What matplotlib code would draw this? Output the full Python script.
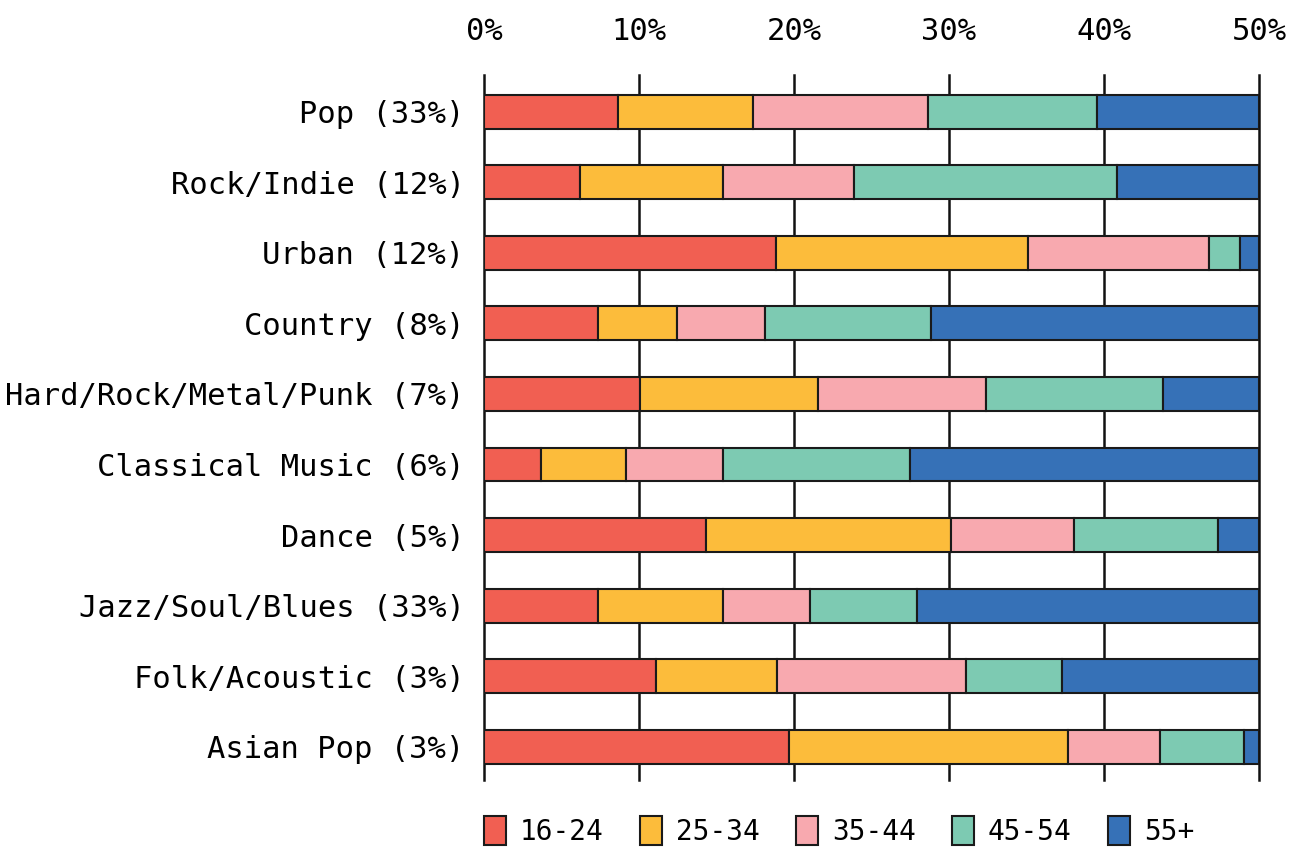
import matplotlib.pyplot as plt
import numpy as np

# Genres (top to bottom) and share of each age group, in percent
genres = ['Pop (33%)', 'Rock/Indie (12%)', 'Urban (12%)', 'Country (8%)',
          'Hard/Rock/Metal/Punk (7%)', 'Classical Music (6%)', 'Dance (5%)',
          'Jazz/Soul/Blues (33%)', 'Folk/Acoustic (3%)', 'Asian Pop (3%)']

age_groups = ['16-24', '25-34', '35-44', '45-54', '55+']

age_16_24 = [8.65, 6.19, 18.84, 7.35, 10.06, 3.68, 14.32, 7.35, 11.10, 19.68]
age_25_34 = [8.71, 9.23, 16.26, 5.10, 11.48, 5.48, 15.81, 8.06, 7.81, 18.00]
age_35_44 = [11.29, 8.45, 11.68, 5.68, 10.84, 6.26, 7.94, 5.61, 12.19, 5.94]
age_45_54 = [10.90, 16.97, 2.00, 10.71, 11.42, 12.06, 9.29, 6.90, 6.19, 5.42]
age_55_plus = [10.45, 9.16, 1.22, 21.16, 6.20, 22.52, 2.64, 22.08, 12.71, 0.96]

xticks = [0, 10, 20, 30, 40, 50]

colors = ['#F15F52', '#FCBC3B', '#F8A9AF', '#7DCAB2', '#3671B7']

plt.rcParams['font.family'] = ['DejaVu Sans Mono']

fig = plt.figure(figsize=(12.91, 8.47), dpi=100)
ax = fig.add_axes([0.3749, 0.0791, 0.6003, 0.8324])

series = [age_16_24, age_25_34, age_35_44, age_45_54, age_55_plus]
y = np.arange(len(genres))
left = np.zeros(len(genres))
for label, vals, col in zip(age_groups, series, colors):
    vals = np.array(vals)
    ax.barh(y, vals, left=left, height=0.48, color=col, edgecolor='#1a1a1a',
            linewidth=1.5, label=label, zorder=2)
    left += vals

ax.set_xlim(0, 50)
ax.set_ylim(len(genres) - 0.53, -0.52)
ax.set_xticks(xticks)
ax.set_xticklabels([f'{t}%' for t in xticks])
ax.set_yticks(y)
ax.set_yticklabels(genres)

ax.xaxis.tick_top()
ax.tick_params(axis='x', length=0, pad=21, labelsize=22)
ax.tick_params(axis='y', length=0, pad=14, labelsize=22)

ax.set_axisbelow(True)
ax.xaxis.grid(True, color='#111111', linewidth=1.8)
for gl in ax.get_xgridlines():
    gl.set_clip_on(False)
for s in ax.spines.values():
    s.set_visible(False)

fig.legend(loc='upper left', bbox_to_anchor=(0.3749, 0.037), ncol=5,
           frameon=False, fontsize=20, handlelength=0.8, handleheight=1.25,
           handletextpad=0.5, columnspacing=1.3, borderaxespad=0,
           borderpad=0)

fig.savefig('out.png', dpi=100)
